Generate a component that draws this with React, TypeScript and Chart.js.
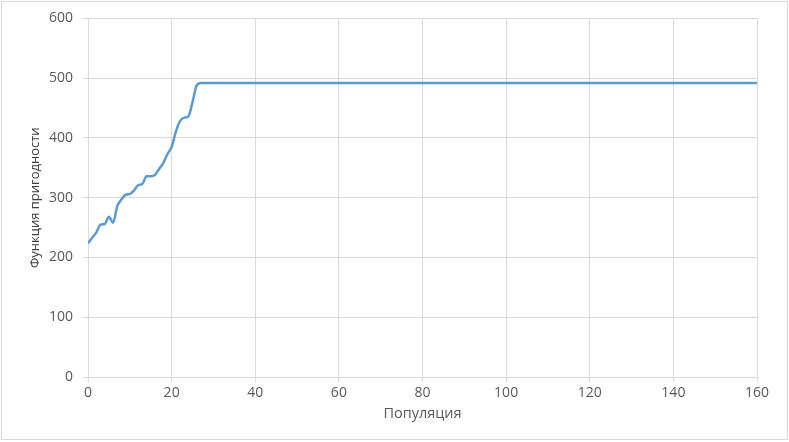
import React, { useEffect, useRef } from "react";
import { Chart, registerables } from "chart.js";

Chart.register(...registerables);

const xValues = [0, 1, 2, 3, 4, 5, 6, 7, 8, 9, 10, 11, 12, 13, 14, 15, 16, 17, 18, 19, 20, 21, 22, 23, 24, 25, 26, 27, 28, 160];
const fitness = [224, 233, 242, 255, 256, 268, 258, 286, 297, 305, 306, 312, 321, 323, 336, 336, 338, 348, 358, 373, 385, 410, 428, 434, 436, 460, 488, 492, 492, 492];
const xTitle = "Популяция";
const yTitle = "Функция пригодности";

export default function App() {
  const ref = useRef<HTMLCanvasElement>(null);
  useEffect(() => {
    if (!ref.current) return;
    const family = "'Open Sans', 'Noto Sans', sans-serif";
    const tickFont = { family, size: 14 };
    const chart = new Chart(ref.current, {
      type: "line",
      data: {
        datasets: [
          {
            data: xValues.map((x, i) => ({ x, y: fitness[i] })),
            borderColor: "#5B9BD5",
            borderWidth: 2.5,
            pointRadius: 0,
            tension: 0.4,
            cubicInterpolationMode: "monotone",
            fill: false,
          },
        ],
      },
      options: {
        responsive: false,
        animation: false,
        layout: { padding: { left: 23, top: 17, right: 32, bottom: 17 } },
        plugins: { legend: { display: false }, tooltip: { enabled: false } },
        scales: {
          x: {
            type: "linear",
            min: 0,
            max: 160,
            ticks: { stepSize: 20, color: "#595959", font: tickFont, padding: 3, maxRotation: 0 },
            grid: { color: "#d9d9d9", tickLength: 5, lineWidth: 1 },
            border: { color: "#d9d9d9" },
            title: { display: true, text: xTitle, color: "#595959", font: { family, size: 14.5 }, padding: { top: 4, bottom: 2 } },
            afterFit: (s: any) => {
              s.height = 48;
            },
          },
          y: {
            min: 0,
            max: 600,
            ticks: { stepSize: 100, color: "#595959", font: tickFont, padding: 10 },
            grid: { color: "#d9d9d9", tickLength: 5, lineWidth: 1 },
            border: { color: "#d9d9d9" },
            title: { display: true, text: yTitle, color: "#404040", font: { family, size: 13 }, padding: { top: 4, bottom: 4 } },
            afterFit: (s: any) => {
              s.width = 65;
            },
          },
        },
      },
    });
    return () => chart.destroy();
  }, []);
  return (
    <div style={{ position: "absolute", left: 0, top: 0, width: 789, height: 442, background: "#fff" }}>
      <canvas ref={ref} width={789} height={442} style={{ display: "block" }} />
      <div
        style={{
          position: "absolute",
          left: 1,
          top: 1,
          width: 785,
          height: 437,
          border: "1px solid #d9d9d9",
          pointerEvents: "none",
        }}
      />
    </div>
  );
}
